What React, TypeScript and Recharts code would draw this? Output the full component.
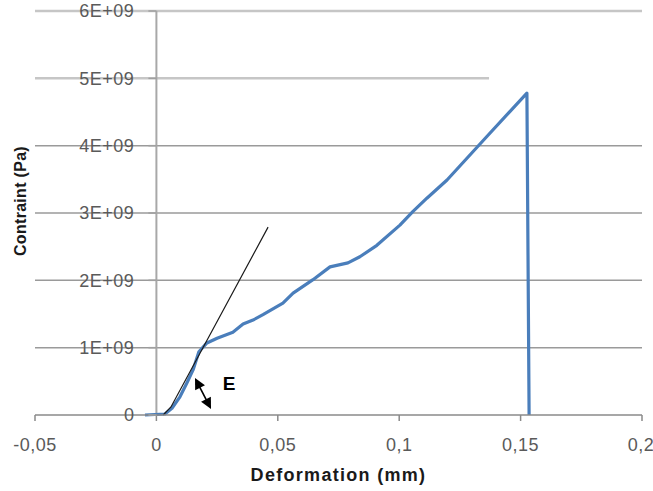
import React from 'react';
import { LineChart, Line, XAxis, YAxis, ReferenceLine, ReferenceDot } from 'recharts';

// ---- data ----
const X_TICKS = [-0.05, 0, 0.05, 0.1, 0.15, 0.2];
const Y_TICKS = [0, 1e9, 2e9, 3e9, 4e9, 5e9, 6e9];

const curveX = [-0.0047, 0.0035, 0.0064, 0.0097, 0.0126, 0.0151, 0.0175, 0.0208, 0.025, 0.0315, 0.0357, 0.0398, 0.0439, 0.0521, 0.0563, 0.0645, 0.0715, 0.0789, 0.0838, 0.0908, 0.1003, 0.1056, 0.1114, 0.1197, 0.1362, 0.1526, 0.1535];
const curveY = [0, 0.015e9, 0.1e9, 0.27e9, 0.48e9, 0.67e9, 0.94e9, 1.07e9, 1.14e9, 1.23e9, 1.35e9, 1.41e9, 1.49e9, 1.66e9, 1.81e9, 2.01e9, 2.2e9, 2.26e9, 2.35e9, 2.52e9, 2.82e9, 3.02e9, 3.22e9, 3.49e9, 4.14e9, 4.78e9, 0];

const tangentX = [0.0028, 0.006, 0.046];
const tangentY = [0, 0.12e9, 2.79e9];

const arrowFrom = { x: 0.0159, y: 0.55e9 };
const arrowTo = { x: 0.0225, y: 0.09e9 };
const eLabelPos = { x: 0.0299, y: 0.475e9 };
const gridValues = [1e9, 2e9, 3e9, 4e9, 5e9, 6e9];
const shortGridValue = 5e9;
const shortGridEnd = 0.137;

const curveData = curveX.map((x, i) => ({ x, y: curveY[i] }));
const tangentData = tangentX.map((x, i) => ({ x, y: tangentY[i] }));

// ---- layout ----
const W = 653;
const H = 491;
const Y_AXIS_W = 35;
const MARGIN = { top: 11, right: 11, bottom: 0, left: 0 };
const X_MIN = -0.05;
const X_MAX = 0.2;
const PLOT_LEFT = MARGIN.left + Y_AXIS_W;
const PLOT_W = W - PLOT_LEFT - MARGIN.right;
const ZERO_X = PLOT_LEFT + (PLOT_W * (0 - X_MIN)) / (X_MAX - X_MIN);

const TICK_FONT = { fontFamily: '"Liberation Sans", Arial, sans-serif', fontSize: 18, letterSpacing: 0.5 };

const fmtX = (v: number) => (v === 0 ? '0' : String(v).replace('.', ','));
const fmtY = (v: number) => (v === 0 ? '0' : `${Math.round(v / 1e9)}E+09`);

const YTick = (props: any) => {
  const { y, payload } = props;
  return (
    <g>
      <line x1={ZERO_X - 8} x2={ZERO_X} y1={y} y2={y} stroke="#a0a0a0" strokeWidth={1.5} />
      <text x={ZERO_X - 22} y={y} dy="0.355em" textAnchor="end" fill="#5a5a5a" style={TICK_FONT}>
        {fmtY(payload.value)}
      </text>
    </g>
  );
};

const ArrowShape = (props: any) => {
  const { x1, y1, x2, y2 } = props;
  const dx = x2 - x1;
  const dy = y2 - y1;
  const len = Math.sqrt(dx * dx + dy * dy) || 1;
  const ux = dx / len;
  const uy = dy / len;
  const hl = 11;
  const hw = 5.5;
  const head = (tx: number, ty: number, dirx: number, diry: number) => {
    const bx = tx - dirx * hl;
    const by = ty - diry * hl;
    const px = -diry * hw;
    const py = dirx * hw;
    return `${tx},${ty} ${bx + px},${by + py} ${bx - px},${by - py}`;
  };
  return (
    <g>
      <line x1={x1 + ux * 6} y1={y1 + uy * 6} x2={x2 - ux * 6} y2={y2 - uy * 6} stroke="#000" strokeWidth={1.6} />
      <polygon points={head(x1, y1, -ux, -uy)} fill="#000" />
      <polygon points={head(x2, y2, ux, uy)} fill="#000" />
    </g>
  );
};

const YLabel = (props: any) => {
  const vb = props.viewBox || { x: 0, y: 0, width: 0, height: 0 };
  const cx = 20;
  const cy = vb.y + vb.height / 2 - 12;
  return (
    <text
      x={cx}
      y={cy}
      transform={`rotate(-90 ${cx} ${cy})`}
      textAnchor="middle"
      dominantBaseline="central"
      fill="#1a1a1a"
      style={{ fontFamily: '"Liberation Sans", Arial, sans-serif', fontSize: 16, fontWeight: 700, letterSpacing: 0.3 }}
    >
      Contraint (Pa)
    </text>
  );
};

export default function App() {
  return (
    <div style={{ position: 'absolute', left: 0, top: 0, background: '#fff' }}>
      <LineChart width={W} height={H} margin={MARGIN}>
        {gridValues.map((v) => {
          const light = v >= 5e9;
          const common = {
            stroke: light ? '#c6c6c6' : '#9a9a9a',
            strokeWidth: light ? 2.5 : 1.5,
          };
          if (v === shortGridValue) {
            return (
              <ReferenceLine
                key={v}
                segment={[{ x: X_MIN, y: v }, { x: shortGridEnd, y: v }]}
                {...common}
              />
            );
          }
          return <ReferenceLine key={v} y={v} {...common} />;
        })}
        <ReferenceLine x={0} stroke="#a8a8a8" strokeWidth={2} />
        <XAxis
          type="number"
          dataKey="x"
          domain={[X_MIN, X_MAX]}
          ticks={X_TICKS}
          tickFormatter={fmtX}
          allowDataOverflow
          height={76}
          tickSize={6}
          tickMargin={17}
          stroke="#8a8a8a"
          strokeWidth={1.5}
          tick={{ fill: '#5a5a5a', ...TICK_FONT }}
          label={{
            value: 'Deformation (mm)',
            position: 'insideBottom',
            offset: 10,
            style: { fontFamily: '"Liberation Sans", Arial, sans-serif', fontSize: 18, fontWeight: 700, fill: '#1a1a1a', letterSpacing: 1.3 },
          }}
        />
        <YAxis
          type="number"
          dataKey="y"
          domain={[0, 6e9]}
          ticks={Y_TICKS}
          width={Y_AXIS_W}
          axisLine={false}
          tickLine={false}
          tick={<YTick />}
          label={<YLabel />}
        />
        <Line
          data={curveData}
          dataKey="y"
          type="linear"
          stroke="#4A7EBB"
          strokeWidth={3.2}
          strokeLinejoin="round"
          dot={false}
          isAnimationActive={false}
        />
        <Line
          data={tangentData}
          dataKey="y"
          type="linear"
          stroke="#1a1a1a"
          strokeWidth={1.2}
          dot={false}
          isAnimationActive={false}
        />
        <ReferenceLine segment={[arrowFrom, arrowTo]} shape={<ArrowShape />} />
        <ReferenceDot
          x={eLabelPos.x}
          y={eLabelPos.y}
          r={1}
          fill="none"
          stroke="none"
          label={{
            value: 'E',
            position: 'center',
            style: { fontFamily: '"Liberation Sans", Arial, sans-serif', fontSize: 19, fontWeight: 700, fill: '#000' },
          }}
        />
      </LineChart>
    </div>
  );
}
